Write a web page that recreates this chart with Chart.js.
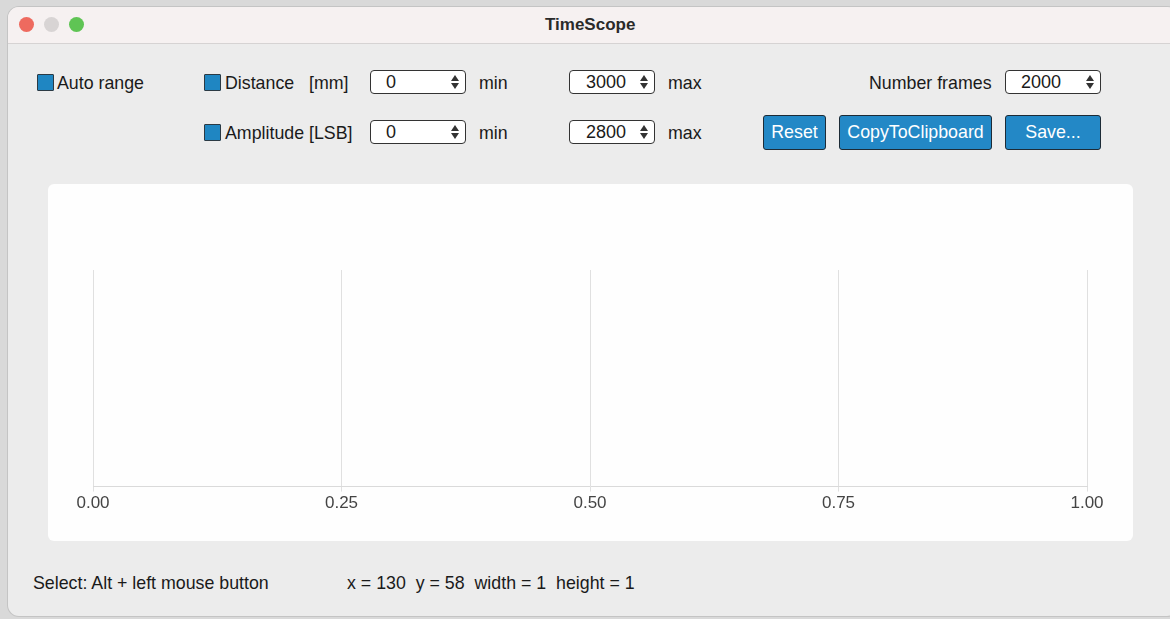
<!DOCTYPE html>
<html>
<head>
<meta charset="utf-8">
<script src="https://cdn.jsdelivr.net/npm/chart.js@4/dist/chart.umd.min.js"></script>
<style>
  html, body { margin: 0; padding: 0; }
  body {
    width: 1170px; height: 619px; overflow: hidden; position: relative;
    background: #d9d9d9;
    font-family: "Liberation Sans", Arial, Helvetica, sans-serif;
    color: #1a1a1a;
  }
  #win {
    position: absolute; left: 8px; top: 7px; width: 1170px; height: 609px;
    background: #ececec; border-radius: 11px; overflow: hidden;
    box-shadow: 0 0 0 1px #c4c4c4;
  }
  #titlebar {
    position: absolute; left: 0; top: 0; right: 0; height: 36px;
    background: #f6f1f1; border-bottom: 1px solid #d6d3d3;
    font-weight: bold; font-size: 17px; color: #2a2a2a;
  }
  #titlebar span { position: absolute; left: 537px; top: 8px; }
  .light { position: absolute; top: 10px; width: 15px; height: 15px; border-radius: 50%; }
  .lbl { position: absolute; font-size: 17.8px; line-height: 20px; white-space: pre; }
  .chk {
    position: absolute; width: 15px; height: 15px; background: #1f86c2;
    border: 1px solid #2b3a44; border-radius: 1px;
  }
  .spin {
    position: absolute; height: 24px; background: #fff; border: 1px solid #333;
    border-radius: 4px; font-size: 18px; line-height: 23px; box-sizing: border-box;
  }
  .spin .v { position: absolute; top: 0; }
  .spin .up { position: absolute; right: 6px; top: 4px; border-left: 4.5px solid transparent; border-right: 4.5px solid transparent; border-bottom: 6px solid #333; }
  .spin .dn { position: absolute; right: 6px; top: 12px; border-left: 4.5px solid transparent; border-right: 4.5px solid transparent; border-top: 6px solid #333; }
  .btn {
    position: absolute; height: 35px; background: #2388c6; border: 1px solid #1d2b36;
    border-radius: 3px; color: #fff; font-size: 17.8px; line-height: 33px; text-align: center;
    box-sizing: border-box;
  }
  #panel {
    position: absolute; left: 40px; top: 177px; width: 1085px; height: 357px;
    background: #fefefe; border-radius: 6px;
  }
</style>
</head>
<body>
<div id="win">
  <div id="titlebar"><span>TimeScope</span></div>
  <div class="light" style="left:11px;background:#ee6a5f;"></div>
  <div class="light" style="left:36px;background:#d8d4d4;"></div>
  <div class="light" style="left:61px;background:#5fc454;"></div>

  <div class="chk" style="left:29px;top:67px;"></div>
  <div class="lbl" style="left:49px;top:66px;">Auto range</div>

  <div class="chk" style="left:196px;top:67px;"></div>
  <div class="lbl" style="left:217px;top:66px;">Distance</div>
  <div class="lbl" style="left:301px;top:66px;">[mm]</div>
  <div class="spin" style="left:362px;top:63px;width:96px;"><span class="v" style="left:15px;">0</span><i class="up"></i><i class="dn"></i></div>
  <div class="lbl" style="left:471px;top:66px;">min</div>
  <div class="spin" style="left:561px;top:63px;width:86px;"><span class="v" style="right:28px;">3000</span><i class="up"></i><i class="dn"></i></div>
  <div class="lbl" style="left:660px;top:66px;">max</div>

  <div class="lbl" style="left:861px;top:66px;">Number frames</div>
  <div class="spin" style="left:997px;top:63px;width:96px;"><span class="v" style="left:15px;">2000</span><i class="up"></i><i class="dn"></i></div>

  <div class="chk" style="left:196px;top:117px;"></div>
  <div class="lbl" style="left:217px;top:116px;">Amplitude [LSB]</div>
  <div class="spin" style="left:362px;top:113px;width:96px;"><span class="v" style="left:15px;">0</span><i class="up"></i><i class="dn"></i></div>
  <div class="lbl" style="left:471px;top:116px;">min</div>
  <div class="spin" style="left:561px;top:113px;width:86px;"><span class="v" style="right:28px;">2800</span><i class="up"></i><i class="dn"></i></div>
  <div class="lbl" style="left:660px;top:116px;">max</div>

  <div class="btn" style="left:755px;top:108px;width:63px;">Reset</div>
  <div class="btn" style="left:831px;top:108px;width:153px;">CopyToClipboard</div>
  <div class="btn" style="left:997px;top:108px;width:96px;">Save...</div>

  <div id="panel"><canvas id="scope" width="1085" height="357"></canvas></div>

  <div class="lbl" style="left:25px;top:566px;">Select: Alt + left mouse button</div>
  <div class="lbl" style="left:339px;top:566px;">x = 130  y = 58  width = 1  height = 1</div>
</div>

<script>
// scope data (no frames captured yet)
const frameTimes = [];
const distanceValues = [];
const amplitudeValues = [];
const xTicks = [0, 0.25, 0.5, 0.75, 1];

const toPoints = (xs, ys) => xs.map((x, i) => ({ x: x, y: ys[i] }));

new Chart(document.getElementById('scope'), {
  type: 'line',
  data: {
    datasets: [
      { label: 'Distance', data: toPoints(frameTimes, distanceValues), borderColor: '#1f86c2', pointRadius: 0 },
      { label: 'Amplitude', data: toPoints(frameTimes, amplitudeValues), borderColor: '#e07b39', pointRadius: 0 }
    ]
  },
  options: {
    responsive: false,
    animation: false,
    layout: { padding: { left: 45, right: 46, top: 86, bottom: 25 } },
    plugins: { legend: { display: false }, tooltip: { enabled: false } },
    scales: {
      x: {
        type: 'linear',
        min: xTicks[0],
        max: xTicks[xTicks.length - 1],
        afterBuildTicks: axis => { axis.ticks = xTicks.map(v => ({ value: v })); },
        ticks: {
          color: '#444',
          font: { family: 'Liberation Sans', size: 17 },
          padding: 2,
          maxRotation: 0,
          callback: v => Number(v).toFixed(2)
        },
        grid: { color: '#e0e0e0', tickLength: 5 },
        border: { color: '#dadada' }
      },
      y: { display: false }
    }
  }
});
</script>
</body>
</html>
